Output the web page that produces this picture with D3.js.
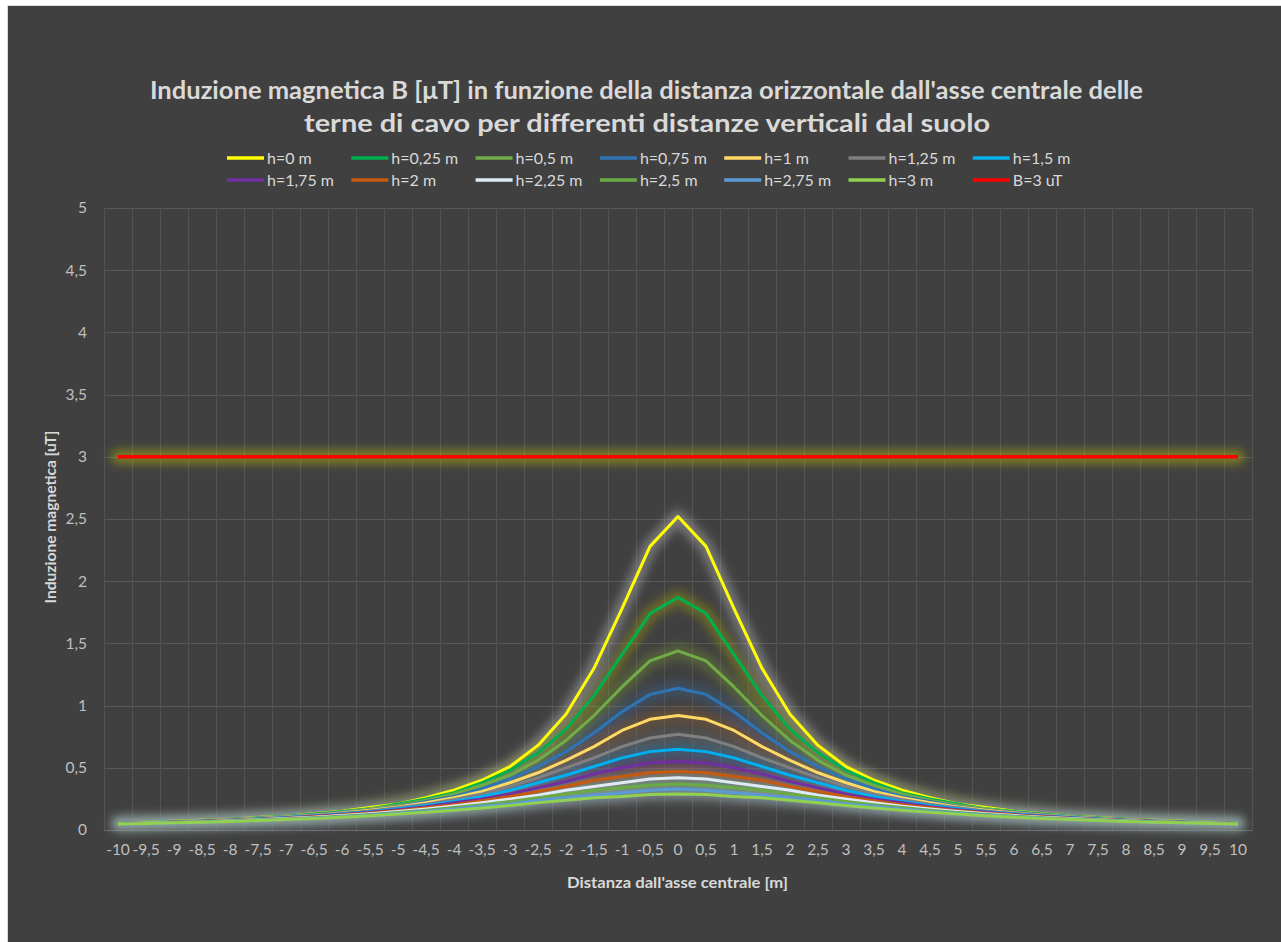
<!DOCTYPE html>
<html><head><meta charset="utf-8">
<script src="https://cdn.jsdelivr.net/npm/d3@7"></script>
<style>html,body{margin:0;padding:0;background:#fff;} svg{display:block;}</style>
</head><body>
<svg id="chart" width="1281" height="942"></svg>
<script>
const xLabels = ["-10","-9,5","-9","-8,5","-8","-7,5","-7","-6,5","-6","-5,5","-5","-4,5","-4","-3,5","-3","-2,5","-2","-1,5","-1","-0,5","0","0,5","1","1,5","2","2,5","3","3,5","4","4,5","5","5,5","6","6,5","7","7,5","8","8,5","9","9,5","10"];
const yTicks = [0,0.5,1,1.5,2,2.5,3,3.5,4,4.5,5];
const yTickLabels = ["0","0,5","1","1,5","2","2,5","3","3,5","4","4,5","5"];
const seriesNames = ["h=0 m","h=0,25 m","h=0,5 m","h=0,75 m","h=1 m","h=1,25 m","h=1,5 m","h=1,75 m","h=2 m","h=2,25 m","h=2,5 m","h=2,75 m","h=3 m","B=3 uT"];

const h0   = [0.057,0.063,0.07,0.078,0.087,0.10,0.11,0.13,0.15,0.18,0.21,0.26,0.32,0.40,0.51,0.68,0.93,1.30,1.78,2.28,2.52,2.28,1.78,1.30,0.93,0.68,0.51,0.40,0.32,0.26,0.21,0.18,0.15,0.13,0.11,0.10,0.087,0.078,0.07,0.063,0.057];
const h025 = [0.056,0.062,0.069,0.077,0.086,0.098,0.111,0.128,0.148,0.17,0.21,0.25,0.30,0.38,0.48,0.62,0.81,1.08,1.41,1.74,1.87,1.74,1.41,1.08,0.81,0.62,0.48,0.38,0.30,0.25,0.21,0.17,0.148,0.128,0.111,0.098,0.086,0.077,0.069,0.062,0.056];
const h05  = [0.056,0.061,0.068,0.076,0.085,0.096,0.109,0.125,0.145,0.17,0.20,0.24,0.29,0.36,0.44,0.56,0.72,0.92,1.15,1.36,1.44,1.36,1.15,0.92,0.72,0.56,0.44,0.36,0.29,0.24,0.20,0.17,0.145,0.125,0.109,0.096,0.085,0.076,0.068,0.061,0.056];
const h075 = [0.055,0.061,0.067,0.075,0.084,0.094,0.107,0.122,0.141,0.16,0.19,0.23,0.27,0.33,0.41,0.51,0.63,0.78,0.95,1.09,1.14,1.09,0.95,0.78,0.63,0.51,0.41,0.33,0.27,0.23,0.19,0.16,0.141,0.122,0.107,0.094,0.084,0.075,0.067,0.061,0.055];
const h1   = [0.055,0.060,0.066,0.074,0.082,0.093,0.105,0.119,0.137,0.158,0.185,0.22,0.26,0.31,0.38,0.46,0.56,0.67,0.80,0.89,0.92,0.89,0.80,0.67,0.56,0.46,0.38,0.31,0.26,0.22,0.185,0.158,0.137,0.119,0.105,0.093,0.082,0.074,0.066,0.060,0.055];
const h125 = [0.054,0.059,0.065,0.073,0.081,0.091,0.102,0.116,0.133,0.153,0.178,0.208,0.245,0.29,0.35,0.42,0.50,0.58,0.67,0.74,0.77,0.74,0.67,0.58,0.50,0.42,0.35,0.29,0.245,0.208,0.178,0.153,0.133,0.116,0.102,0.091,0.081,0.073,0.065,0.059,0.054];
const h15  = [0.053,0.058,0.064,0.071,0.079,0.089,0.100,0.113,0.129,0.147,0.170,0.197,0.23,0.27,0.32,0.38,0.44,0.51,0.58,0.63,0.65,0.63,0.58,0.51,0.44,0.38,0.32,0.27,0.23,0.197,0.170,0.147,0.129,0.113,0.100,0.089,0.079,0.071,0.064,0.058,0.053];
const h175 = [0.052,0.057,0.063,0.070,0.078,0.087,0.097,0.110,0.124,0.142,0.163,0.187,0.22,0.25,0.29,0.34,0.39,0.45,0.50,0.54,0.55,0.54,0.50,0.45,0.39,0.34,0.29,0.25,0.22,0.187,0.163,0.142,0.124,0.110,0.097,0.087,0.078,0.070,0.063,0.057,0.052];
const h2   = [0.052,0.057,0.062,0.069,0.076,0.085,0.094,0.106,0.120,0.136,0.155,0.178,0.204,0.235,0.27,0.31,0.35,0.40,0.43,0.46,0.47,0.46,0.43,0.40,0.35,0.31,0.27,0.235,0.204,0.178,0.155,0.136,0.120,0.106,0.094,0.085,0.076,0.069,0.062,0.057,0.052];
const h225 = [0.051,0.056,0.061,0.067,0.074,0.082,0.092,0.103,0.116,0.130,0.148,0.168,0.192,0.22,0.25,0.28,0.32,0.35,0.38,0.41,0.42,0.41,0.38,0.35,0.32,0.28,0.25,0.22,0.192,0.168,0.148,0.130,0.116,0.103,0.092,0.082,0.074,0.067,0.061,0.056,0.051];
const h25  = [0.050,0.055,0.060,0.066,0.072,0.080,0.089,0.099,0.111,0.125,0.141,0.159,0.180,0.204,0.23,0.26,0.29,0.32,0.34,0.36,0.37,0.36,0.34,0.32,0.29,0.26,0.23,0.204,0.180,0.159,0.141,0.125,0.111,0.099,0.089,0.080,0.072,0.066,0.060,0.055,0.050];
const h275 = [0.049,0.053,0.058,0.064,0.071,0.078,0.086,0.096,0.107,0.120,0.134,0.151,0.169,0.190,0.21,0.24,0.26,0.28,0.30,0.32,0.33,0.32,0.30,0.28,0.26,0.24,0.21,0.190,0.169,0.151,0.134,0.120,0.107,0.096,0.086,0.078,0.071,0.064,0.058,0.053,0.049];
const h3   = [0.048,0.053,0.058,0.063,0.069,0.076,0.084,0.093,0.103,0.114,0.128,0.143,0.159,0.177,0.197,0.22,0.24,0.26,0.27,0.285,0.29,0.285,0.27,0.26,0.24,0.22,0.197,0.177,0.159,0.143,0.128,0.114,0.103,0.093,0.084,0.076,0.069,0.063,0.058,0.053,0.048];
const limitB3 = [3,3,3,3,3,3,3,3,3,3,3,3,3,3,3,3,3,3,3,3,3,3,3,3,3,3,3,3,3,3,3,3,3,3,3,3,3,3,3,3,3];

const seriesValues = [h0,h025,h05,h075,h1,h125,h15,h175,h2,h225,h25,h275,h3,limitB3];

// styles
const colors = ["#FFFF00","#00B050","#70AD47","#2E75B6","#FFD966","#808080","#00B0F0","#7030A0","#C55A11","#DEEBF7","#6AAB46","#5B9BD5","#92D050","#FF0000"];
const glowColors = ["#d0d0d0","#b0b000","#7a9a30","#3a6aa0","#a06a30","#707070","#2a90c0","#6a3a90","#a0582a","#b0c0d0","#6a9a46","#6a9ac8","#b8c0c0","#c8c800"];

const W = 1281, H = 942;
const svg = d3.select("#chart");
const font = "Lato, 'Open Sans', sans-serif";

svg.append("rect").attr("x",0).attr("y",0).attr("width",W).attr("height",H).attr("fill","#ffffff");
svg.append("rect").attr("x",7.5).attr("y",5.5).attr("width",W-7).attr("height",H-5).attr("fill","#404040").attr("stroke","#d9d9d9").attr("stroke-width",1);

const defs = svg.append("defs");
defs.append("filter").attr("id","glow").attr("x","-10%").attr("y","-50%").attr("width","120%").attr("height","200%")
  .append("feGaussianBlur").attr("stdDeviation",5);

const plot = {left:104, right:1252, top:208, bottom:830};

const x = d3.scaleBand().domain(xLabels).range([plot.left, plot.right]).padding(0);
const y = d3.scaleLinear().domain([0,5]).range([plot.bottom, plot.top]);

// gridlines
const grid = svg.append("g");
grid.selectAll("line.h").data(yTicks.slice(1)).enter().append("line")
  .attr("x1",plot.left).attr("x2",plot.right)
  .attr("y1",d=>Math.round(y(d))+0.5).attr("y2",d=>Math.round(y(d))+0.5)
  .attr("stroke","#595959").attr("stroke-width",1);
const bounds = xLabels.map(d=>x(d)).concat([plot.right]);
grid.selectAll("line.v").data(bounds).enter().append("line")
  .attr("x1",d=>Math.round(d)+0.5).attr("x2",d=>Math.round(d)+0.5)
  .attr("y1",plot.top).attr("y2",plot.bottom)
  .attr("stroke","#535353").attr("stroke-width",1);

// axes
const yAxis = d3.axisLeft(y).tickValues(yTicks).tickFormat((d,i)=>yTickLabels[i]).tickSize(0).tickPadding(17);
const gy = svg.append("g").attr("transform",`translate(${plot.left},0)`).call(yAxis);
gy.select(".domain").remove();
gy.selectAll("text").attr("fill","#bfbfbf").style("font-family",font).style("font-size","15.5px");

const xAxis = d3.axisBottom(x).tickSize(0).tickPadding(14);
const gx = svg.append("g").attr("transform",`translate(0,${plot.bottom})`).call(xAxis);
gx.select(".domain").attr("stroke","#6a6a6a");
gx.selectAll("text").attr("fill","#bfbfbf").style("font-family",font).style("font-size","15.5px");

// lines
const line = d3.line().x((d,i)=>x(xLabels[i]) + x.bandwidth()/2).y(d=>y(d));
const glowG = svg.append("g").attr("filter","url(#glow)");
const lineG = svg.append("g");
seriesValues.forEach((vals,k)=>{
  glowG.append("path").datum(vals).attr("d",line).attr("fill","none")
    .attr("stroke",glowColors[k]).attr("stroke-width",14).attr("stroke-opacity",k===13?0.45:0.38)
    .attr("stroke-linejoin","round").attr("stroke-linecap","round");
});
seriesValues.forEach((vals,k)=>{
  lineG.append("path").datum(vals).attr("d",line).attr("fill","none")
    .attr("stroke",colors[k]).attr("stroke-width",k===13?3.5:3)
    .attr("stroke-linejoin","round").attr("stroke-linecap","butt");
});

// title
const tStyle = s=>s.attr("fill","#d9d9d9").style("font-family",font).style("font-weight","bold").style("font-size","25px").attr("text-anchor","middle");
svg.append("text").attr("x",646.5).attr("y",99).call(tStyle)
  .attr("textLength",993).attr("lengthAdjust","spacingAndGlyphs")
  .text("Induzione magnetica B [μT] in funzione della distanza orizzontale dall'asse centrale delle");
svg.append("text").attr("x",647).attr("y",132).call(tStyle)
  .attr("textLength",686).attr("lengthAdjust","spacingAndGlyphs")
  .text("terne di cavo per differenti distanze verticali dal suolo");

// legend
const leg = svg.append("g");
seriesNames.forEach((name,k)=>{
  const col = k%7, row = Math.floor(k/7);
  const lx = 227 + col*124.3, ly = 158 + row*22;
  leg.append("line").attr("x1",lx).attr("x2",lx+37).attr("y1",ly).attr("y2",ly)
    .attr("stroke",colors[k]).attr("stroke-width",3.5);
  leg.append("text").attr("x",lx+40).attr("y",ly+5.5).text(name)
    .attr("fill","#d9d9d9").style("font-family",font).style("font-size","16px");
});

// axis titles
svg.append("text").attr("x",677.5).attr("y",888).attr("text-anchor","middle").text("Distanza dall'asse centrale [m]")
  .attr("textLength",221).attr("lengthAdjust","spacingAndGlyphs")
  .attr("fill","#d9d9d9").style("font-family",font).style("font-weight","bold").style("font-size","16px");
svg.append("text").attr("transform","translate(56,517) rotate(-90)").attr("text-anchor","middle").text("Induzione magnetica [uT]")
  .attr("textLength",173).attr("lengthAdjust","spacingAndGlyphs")
  .attr("fill","#d9d9d9").style("font-family",font).style("font-weight","bold").style("font-size","16px");
</script>
</body></html>
